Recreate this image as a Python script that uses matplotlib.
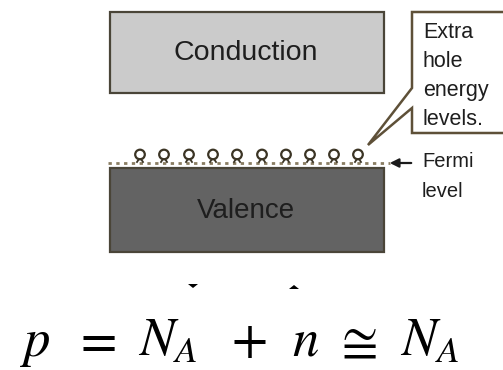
import matplotlib
matplotlib.use("Agg")
import matplotlib.pyplot as plt
from matplotlib.patches import Rectangle, Circle, Polygon

plt.rcParams["font.family"] = ["Liberation Sans", "DejaVu Sans"]
plt.rcParams["mathtext.fontset"] = "stix"

# band labels and hole-level positions (pixel coords of the original picture)
band_labels = ["Conduction", "Valence"]
band_colors = ["#cbcbcb", "#636363"]
band_tops = [12, 168]
band_bottoms = [93, 252]
hole_x = [140, 164, 189, 213, 237, 262, 286, 310, 334, 358]
callout_lines = ["Extra", "hole", "energy", "levels."]
fermi_lines = ["Fermi", "level"]
eq_tokens = [r"$p$", r"$=$", r"$N_A$", r"$+$", r"$n$", r"$\cong$", r"$N_A$"]
eq_left = [20, 73, 138, 231, 292, 334, 400]

fig = plt.figure(figsize=(5.03, 3.70), dpi=100)
ax = fig.add_axes([0, 0, 1, 1])
ax.set_xlim(0, 503)
ax.set_ylim(370, 0)
ax.axis("off")

# 能带
sizes = [20.5, 20]
for lab, col, top, bot, fs in zip(band_labels, band_colors, band_tops, band_bottoms, sizes):
    ax.add_patch(Rectangle((110, top), 274, bot - top, facecolor=col,
                           edgecolor="#4a4538", linewidth=1.6))
    ax.text(246, (top + bot) / 2 + 1, lab, fontsize=fs, color="#1e1e1e",
            ha="center", va="center")

# Fermi 能级虚线
ax.plot([108, 390], [163, 163], color="#8a7d62", linestyle=(0, (1.2, 1.6)),
        linewidth=2)
ax.annotate("", xy=(387, 163), xytext=(414, 163),
            arrowprops=dict(arrowstyle="-|>", color="#1a1a1a", lw=1.6,
                            mutation_scale=13))
ax.text(422, 167, fermi_lines[0], fontsize=14.5, color="#1e1e1e", va="baseline")
ax.text(422, 197, fermi_lines[1], fontsize=14.5, color="#1e1e1e", va="baseline")

# 空穴能级小圆
for x in hole_x:
    ax.plot([x - 3, x - 1], [162, 159], color="#3b3424", lw=1.3)
    ax.plot([x + 3, x + 1], [162, 159], color="#3b3424", lw=1.3)
    ax.add_patch(Circle((x, 154.5), 4.8, facecolor="white",
                        edgecolor="#3b3424", linewidth=1.6))

# 说明框
ax.add_patch(Polygon([(515, 12), (412, 12), (412, 88), (368, 145),
                      (412, 108), (412, 133), (515, 133)], closed=True,
                     facecolor="white", edgecolor="#5e5038", linewidth=1.8))
for i, s in enumerate(callout_lines):
    ax.text(423, 38 + i * 29, s, fontsize=15.5, color="#1e1e1e", va="baseline")

# 截断残留
ax.add_patch(Polygon([(188, 284), (198, 284), (193, 288)], closed=True,
                     facecolor="black", edgecolor="none"))
ax.add_patch(Polygon([(289, 289), (299, 289), (294, 285)], closed=True,
                     facecolor="black", edgecolor="none"))

# 公式
for tok, x in zip(eq_tokens, eq_left):
    ax.text(x, 356, tok, fontsize=38, color="black", ha="left", va="baseline")

plt.savefig("out.png", dpi=100)
